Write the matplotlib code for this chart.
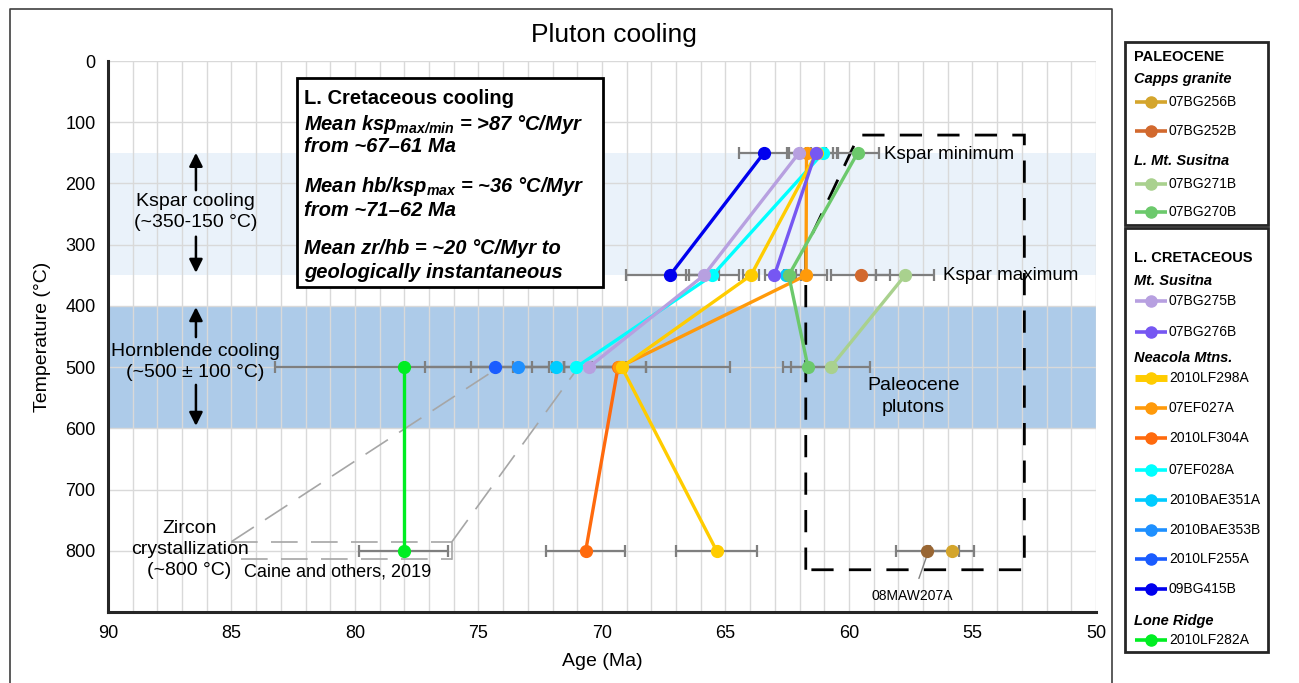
import matplotlib
matplotlib.use("Agg")
import matplotlib.pyplot as plt
from matplotlib.patches import Rectangle, Polygon
from matplotlib.ticker import MultipleLocator

plt.rcParams["font.family"] = ["Liberation Sans", "DejaVu Sans"]
plt.rcParams["mathtext.fontset"] = "custom"
plt.rcParams["mathtext.rm"] = "Liberation Sans:italic:bold"
plt.rcParams["mathtext.it"] = "Liberation Sans:italic:bold"
plt.rcParams["mathtext.bf"] = "Liberation Sans:italic:bold"

# ---------------------------------------------------------------- data
# Sample names (legend order) and their colours
samples = ["07BG256B", "07BG252B", "07BG271B", "07BG270B",
           "07BG275B", "07BG276B", "2010LF298A", "07EF027A", "2010LF304A",
           "07EF028A", "2010BAE351A", "2010BAE353B", "2010LF255A",
           "09BG415B", "2010LF282A", "08MAW207A"]
colors = {"07BG256B": "#D4A52C", "07BG252B": "#D2692E",
          "07BG271B": "#A9D18E", "07BG270B": "#6CC96C",
          "07BG275B": "#B7A0E0", "07BG276B": "#7657F2",
          "2010LF298A": "#FFCC00", "07EF027A": "#FF9A0A",
          "2010LF304A": "#FF6A0D", "07EF028A": "#00FFFF",
          "2010BAE351A": "#00CCFF", "2010BAE353B": "#1E90FF",
          "2010LF255A": "#1A5CFF", "09BG415B": "#0000EE",
          "2010LF282A": "#00EE22", "08MAW207A": "#996633"}

# Ages (Ma), closure temperatures (°C) and age uncertainties (Myr)
ages = {"07BG256B": [55.82], "07BG252B": [59.53],
        "07BG271B": [57.73, 60.74], "07BG270B": [59.65, 62.44, 61.66],
        "07BG275B": [62.02, 65.87, 70.53], "07BG276B": [61.35, 63.02],
        "2010LF298A": [61.31, 63.97, 69.20, 65.36],
        "07EF027A": [61.72, 61.74, 69.30], "2010LF304A": [69.35, 70.66],
        "07EF028A": [61.05, 65.53, 71.04], "2010BAE351A": [62.55, 71.85],
        "2010BAE353B": [73.42], "2010LF255A": [74.35],
        "09BG415B": [63.44, 67.25], "2010LF282A": [78.03, 78.03],
        "08MAW207A": [56.83]}
temps = {"07BG256B": [800], "07BG252B": [350],
         "07BG271B": [350, 500], "07BG270B": [150, 350, 500],
         "07BG275B": [150, 350, 500], "07BG276B": [150, 350],
         "2010LF298A": [150, 350, 500, 800],
         "07EF027A": [150, 350, 500], "2010LF304A": [500, 800],
         "07EF028A": [150, 350, 500], "2010BAE351A": [350, 500],
         "2010BAE353B": [500], "2010LF255A": [500],
         "09BG415B": [150, 350], "2010LF282A": [500, 800],
         "08MAW207A": [800]}
errs = {"07BG256B": [0.90], "07BG252B": [1.20],
        "07BG271B": [1.17, 1.60], "07BG270B": [0.85, 0.50, 1.00],
        "07BG275B": [0.50, 0.61, 1.50], "07BG276B": [0.40, 0.40],
        "2010LF298A": [0.65, 0.33, 4.40, 1.65],
        "07EF027A": [0.75, 0.85, 1.10], "2010LF304A": [1.15, 1.60],
        "07EF028A": [0.60, 1.07, 0.50], "2010BAE351A": [0.40, 0.30],
        "2010BAE353B": [1.90], "2010LF255A": [2.80],
        "09BG415B": [1.00, 1.78], "2010LF282A": [5.20, 1.80],
        "08MAW207A": [1.27]}
# measurements plotted as points only
unconnected = ["2010BAE351A"]

x_ticks = [90, 85, 80, 75, 70, 65, 60, 55, 50]
y_ticks = [0, 100, 200, 300, 400, 500, 600, 700, 800]

# ---------------------------------------------------------------- figure
W, H = 1299, 683
fig = plt.figure(figsize=(W / 100, H / 100), dpi=100)
ax = fig.add_axes([108 / W, 1 - 612 / H, 988 / W, 551 / H])

ax.set_xlim(90, 50)
ax.set_ylim(900, 0)
ax.set_xticks(x_ticks)
ax.set_yticks(y_ticks)
ax.xaxis.set_minor_locator(MultipleLocator(1))
ax.tick_params(which="both", length=0, labelsize=13, pad=9)
ax.grid(True, which="both", axis="x", color="#D9D9D9", lw=1.0, zorder=1)
ax.grid(True, which="major", axis="y", color="#D9D9D9", lw=1.0, zorder=1)
ax.set_axisbelow(True)
for s in ("top", "right"):
    ax.spines[s].set_visible(False)
for s in ("left", "bottom"):
    ax.spines[s].set_linewidth(2.2)
    ax.spines[s].set_color("#262626")

ax.set_xlabel("Age (Ma)", fontsize=14, labelpad=8)
ax.set_ylabel("Temperature (°C)", fontsize=14, labelpad=10)
fig.text(614 / W, 1 - 35 / H, "Pluton cooling", fontsize=19,
         ha="center", va="center")

# closure temperature windows
ax.axhspan(150, 350, color="#EAF2FA", zorder=0.5, lw=0)
ax.axhspan(400, 600, color="#ADCBE9", zorder=0.5, lw=0)

# Paleocene plutons outline
pal = Polygon([(61.75, 831), (61.75, 305), (59.6, 121), (52.9, 121), (52.9, 831)],
              closed=True, fill=False, ec="black", lw=2.0,
              ls=(0, (8, 5.5)), zorder=2.5)
ax.add_patch(pal)

# wedge linking zircon crystallization ages to hornblende
gray_dash = dict(color="#A6A6A6", lw=1.2, ls=(0, (16, 8)), zorder=2)
ax.plot([85.0, 76.07], [785, 785], **gray_dash)
ax.plot([84.6, 76.07], [813, 813], **gray_dash)
ax.plot([76.07, 76.07], [785, 813], color="#A6A6A6", lw=1.2, zorder=2)
ax.plot([85.0, 74.35], [785, 505], **gray_dash)
ax.plot([76.07, 71.04], [785, 505], **gray_dash)

# error bars
for name in samples:
    ax.errorbar(ages[name], temps[name], xerr=errs[name], fmt="none",
                ecolor="#7F7F7F", elinewidth=1.6, capsize=4, capthick=1.6,
                zorder=3)

# cooling paths
for name in reversed(samples):
    ls = "none" if name in unconnected else "-"
    ax.plot(ages[name], temps[name], ls=ls, marker="o", ms=8.5, lw=2.4,
            color=colors[name], zorder=4)

# annotations
txt = dict(fontsize=14, ha="center", va="center", zorder=6)
ax.text(86.45, 247, "Kspar cooling\n(~350-150 °C)", linespacing=1.3, **txt)
ax.text(86.45, 491, "Hornblende cooling\n(~500 ± 100 °C)", linespacing=1.3, **txt)
ax.text(86.7, 798, "Zircon\ncrystallization\n(~800 °C)", linespacing=1.3, **txt)
ax.text(80.7, 834, "Caine and others, 2019", fontsize=13, ha="center",
        va="center")
ax.text(57.4, 548, "Paleocene\nplutons", linespacing=1.35, **txt)
ax.text(58.6, 152, "Kspar minimum", fontsize=13.5, ha="left", va="center")
ax.text(56.2, 350, "Kspar maximum", fontsize=13.5, ha="left", va="center")
ax.annotate("08MAW207A", xy=(56.83, 806), xytext=(57.42, 874),
            fontsize=10, ha="center", va="center",
            arrowprops=dict(arrowstyle="-", color="#7F7F7F", lw=1,
                            shrinkA=6, shrinkB=0))

arrow = dict(arrowstyle="-|>,head_length=0.8,head_width=0.4", color="black",
             lw=1.8, shrinkA=0, shrinkB=0)
for y0, y1 in [(211, 150), (287, 346), (451, 402), (529, 596)]:
    ax.annotate("", xy=(86.44, y1), xytext=(86.44, y0), arrowprops=arrow)

# ---------------------------------------------------------------- overlay
ov = fig.add_axes([0, 0, 1, 1], zorder=10)
ov.set_xlim(0, W)
ov.set_ylim(H, 0)
ov.axis("off")

# outer frame
ov.plot([10, 10, 1112, 1112], [H + 5, 9, 9, H + 5], color="#404040", lw=1.2)

# summary box
ov.add_patch(Rectangle((297, 78), 306, 209, fc="white", ec="black", lw=2))
box_lines = [
    (99, "L. Cretaceous cooling", dict(fontweight="bold")),
    (124, r"Mean ksp$_{\mathrm{max/min}}$ = >87 °C/Myr",
     dict(fontweight="bold", fontstyle="italic")),
    (147, "from ~67–61 Ma", dict(fontweight="bold", fontstyle="italic")),
    (187, r"Mean hb/ksp$_{\mathrm{max}}$ = ~36 °C/Myr",
     dict(fontweight="bold", fontstyle="italic")),
    (210, "from ~71–62 Ma", dict(fontweight="bold", fontstyle="italic")),
    (249, "Mean zr/hb = ~20 °C/Myr to",
     dict(fontweight="bold", fontstyle="italic")),
    (272, "geologically instantaneous",
     dict(fontweight="bold", fontstyle="italic")),
]
for y, s, kw in box_lines:
    ov.text(304, y, s, fontsize=14.5, ha="left", va="center", **kw)

# legend panels
ov.add_patch(Rectangle((1125, 42), 143, 183, fc="white", ec="#262626", lw=2))
ov.add_patch(Rectangle((1125, 228), 143, 424, fc="white", ec="#262626", lw=2))

headers = [(57, "PALEOCENE", "normal"), (79, "Capps granite", "italic"),
           (161, "L. Mt. Susitna", "italic"), (258, "L. CRETACEOUS", "normal"),
           (281, "Mt. Susitna", "italic"), (358, "Neacola Mtns.", "italic"),
           (621, "Lone Ridge", "italic")]
for y, s, st in headers:
    ov.text(1134, y, s, fontsize=10.5, fontweight="bold", fontstyle=st,
            ha="left", va="center")

legend_rows = {"07BG256B": 102, "07BG252B": 131, "07BG271B": 184,
               "07BG270B": 212, "07BG275B": 301, "07BG276B": 332,
               "2010LF298A": 378, "07EF027A": 408, "2010LF304A": 438,
               "07EF028A": 470, "2010BAE351A": 500, "2010BAE353B": 530,
               "2010LF255A": 559, "09BG415B": 589, "2010LF282A": 640}
for name, y in legend_rows.items():
    lw = 5 if name == "2010LF298A" else 2.6
    ov.plot([1135, 1167], [y, y], color=colors[name], lw=lw,
            solid_capstyle="butt")
    ov.plot([1151], [y], marker="o", ms=8, color=colors[name], ls="none")
    ov.text(1169, y, name, fontsize=10, ha="left", va="center")

fig.savefig("out.png", dpi=100)
